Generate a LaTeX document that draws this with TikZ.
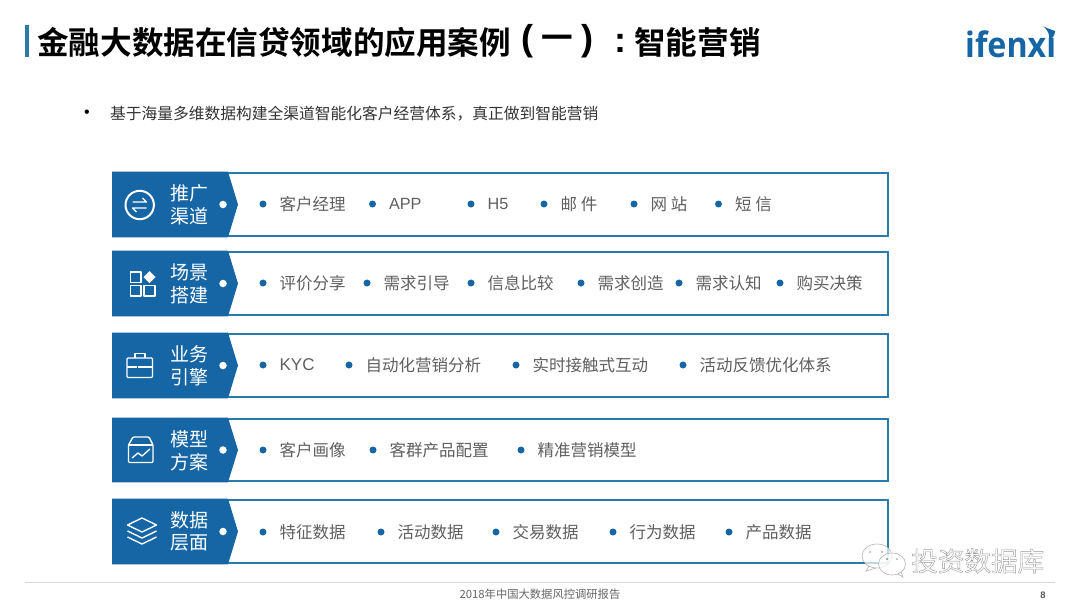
\documentclass[tikz,border=0pt]{standalone}
\usepackage{fontspec}
\setmainfont{Liberation Sans}
\newfontfamily\cjk{Noto Sans CJK SC}[BoldFont=* Bold]
\newfontfamily\logofont{Open Sans}
\definecolor{bankblue}{HTML}{1666A6}
\definecolor{edgeblue}{HTML}{2A7BA9}
\definecolor{itemgray}{HTML}{5F5F5F}
\tikzset{
  band/.style={draw=edgeblue,line width=2.1,fill=white},
  tab/.style={fill=bankblue,draw=none},
  tablabel/.style={inner sep=0,text=white,font=\cjk\fontsize{19}{20}\selectfont},
  itemlabel/.style={inner sep=0,anchor=west,text=itemgray,font=\cjk\fontsize{16.5}{17}\selectfont},
  bulletdot/.style={circle,fill=bankblue,inner sep=0,minimum size=7},
  whitedot/.style={circle,fill=white,inner sep=0,minimum size=7.5},
  icon/.style={draw=white,line width=1.35,line join=round},
  titletext/.style={inner sep=0,text=black,font=\cjk\bfseries\fontsize{31.6}{32}\selectfont},
  titlemark/.style={inner sep=0,text=black,font=\bfseries\fontsize{36}{36}\selectfont}
}
\newcommand{\bandrow}[4]{%
  % #1 top, #2 bottom, #3 name, #4 mid
  \draw[band] (113,#1+0.8) rectangle (887.6,#2-0.8);
  \fill[tab] (112,#1-0.3) -- (228,#1-0.3) -- (238,#4) -- (228,#2+0.3) -- (112,#2+0.3) -- cycle;
  \node[whitedot] (#3dot) at (223,#4) {};
}
\newcommand{\itemat}[4]{%
  % #1 name, #2 y, #3 bullet x, #4 text
  \node[bulletdot] (#1d) at (#3,#2) {};
  \node[itemlabel] (#1t) at (#3+16.4,#2) {#4};
}
\begin{document}
\begin{tikzpicture}[x=1pt,y=-1pt]
\useasboundingbox (0,0) rectangle (1080,608);
\fill[white] (0,0) rectangle (1080,608);
% title
\fill[edgeblue] (25,25) rectangle (29,57);
\node[titletext,anchor=west] (title) at (37,42) {金融大数据在信贷领域的应用案例};
\node[titlemark] (popen) at (527,41) {(};
\node[titletext] (tone) at (557,42) {一};
\node[titlemark] (pclose) at (587,41) {)};
\node[titlemark] (tcolon) at (620,43.5) {:};
\node[titletext,anchor=west] (title2) at (634,42) {智能营销};
\node[inner sep=0,text=black] (lead) at (87,114) {\fontsize{16}{16}\selectfont •};
\node[inner sep=0,anchor=west,text=black!80] (leadtext) at (110,114) {\cjk\fontsize{15.75}{16}\selectfont 基于海量多维数据构建全渠道智能化客户经营体系，真正做到智能营销};
% logo
\node[inner sep=0,anchor=base west,text=bankblue,xscale=0.92,transform shape] (logo) at (965,57) {\logofont\bfseries\fontsize{35}{36}\selectfont ifenxı};
\fill[bankblue] (1043,26) .. controls (1048,29) and (1053,30) .. (1055,31) .. controls (1055,35) and (1053,38) .. (1049,40) .. controls (1050,35) and (1048,30) .. (1043,26) -- cycle;
% rows
\bandrow{172}{237}{a}{204.5}
\bandrow{251}{316}{b}{283.5}
\bandrow{333}{398}{c}{365.5}
\bandrow{418}{482}{d}{450}
\bandrow{499}{564}{e}{531.5}
% tab labels
\node[tablabel] (a1) at (189,193) {推广};
\node[tablabel] (a2) at (189,216) {渠道};
\node[tablabel] (b1) at (189,272) {场景};
\node[tablabel] (b2) at (189,295) {搭建};
\node[tablabel] (c1) at (189,354) {业务};
\node[tablabel] (c2) at (189,377) {引擎};
\node[tablabel] (d1) at (189,439) {模型};
\node[tablabel] (d2) at (189,462) {方案};
\node[tablabel] (e1) at (189,520) {数据};
\node[tablabel] (e2) at (189,543) {层面};
% items
\itemat{a1i}{204}{263}{客户经理}
\itemat{a2i}{204}{372.5}{\fontsize{16.2}{17}\selectfont\rmfamily APP}
\itemat{a3i}{204}{471}{\fontsize{16.2}{17}\selectfont\rmfamily H5}
\itemat{a4i}{204}{544}{邮 件}
\itemat{a5i}{204}{634}{网 站}
\itemat{a6i}{204}{718.5}{短 信}
\itemat{b1i}{283}{263}{评价分享}
\itemat{b2i}{283}{367}{需求引导}
\itemat{b3i}{283}{471}{信息比较}
\itemat{b4i}{283}{581}{需求创造}
\itemat{b5i}{283}{679}{需求认知}
\itemat{b6i}{283}{780}{购买决策}
\itemat{c1i}{365}{263}{\fontsize{17}{17}\selectfont\rmfamily KYC}
\itemat{c2i}{365}{349}{自动化营销分析}
\itemat{c3i}{365}{516}{实时接触式互动}
\itemat{c4i}{365}{683}{活动反馈优化体系}
\itemat{d1i}{450}{263}{客户画像}
\itemat{d2i}{450}{373}{客群产品配置}
\itemat{d3i}{450}{521}{精准营销模型}
\itemat{e1i}{532}{263}{特征数据}
\itemat{e2i}{532}{381}{活动数据}
\itemat{e3i}{532}{496}{交易数据}
\itemat{e4i}{532}{613}{行为数据}
\itemat{e5i}{532}{729}{产品数据}
% icon 1: circle with arrows
\draw[icon,line width=2] (139.7,205) circle (14.2);
\draw[icon] (132.5,202) -- (146.5,202) -- (142.5,198);
\draw[icon] (146.5,208) -- (132.5,208) -- (136.5,212);
% icon 2: squares and diamond
\draw[icon] (130.5,272) rectangle (141,282.5);
\draw[icon] (130.5,285.5) rectangle (141,296);
\draw[icon] (144,285.5) rectangle (155,296);
\fill[white] (149.5,271) -- (155.5,277) -- (149.5,283) -- (143.5,277) -- cycle;
% icon 3: briefcase
\draw[icon,rounded corners=1] (127,358) rectangle (152.5,377.5);
\draw[icon] (127,367) -- (137,367) (143,367) -- (152.5,367);
\draw[icon] (135,358) -- (135,353.5) -- (145,353.5) -- (145,358);
\fill[white] (137.5,366) rectangle (142.5,368);
% icon 4: box with chart
\draw[icon,rounded corners=1] (128.5,445) -- (133,437) -- (149,437) -- (153,445) -- (153,462.5) -- (128.5,462.5) -- cycle;
\draw[icon] (128.5,445) -- (153,445);
\draw[icon] (132,458) -- (138,453) -- (142,456) -- (150,449);
% icon 5: layers
\draw[icon] (142,518) -- (156.5,525) -- (142,532) -- (127.5,525) -- cycle;
\draw[icon] (127.5,531) -- (142,538) -- (156.5,531);
\draw[icon] (127.5,537) -- (142,544) -- (156.5,537);
% footer
\draw[black!15,line width=0.8] (25,582.5) -- (1055,582.5);
\node[inner sep=0,text=black!60] (foot) at (540,594) {\cjk\fontsize{11.3}{12}\selectfont 2018年中国大数据风控调研报告};
\node[inner sep=0,text=black!65] (page) at (1043,595) {\bfseries\fontsize{9.5}{10}\selectfont 8};
% watermark
\draw[black!30,fill=white,fill opacity=0.7,line width=0.6] (877,556) ellipse (15 and 12);
\draw[black!30,line width=0.6] (869,566) -- (866,571) -- (876,568);
\draw[black!30,fill=white,fill opacity=0.7,line width=0.6] (892,564) ellipse (13.5 and 11);
\draw[black!30,line width=0.6] (898,574) -- (903,577) -- (901,572);
\fill[black!45] (870,552) circle (0.9) (882,552) circle (0.9) (887,559) circle (1.2) (897,559) circle (0.9);
\node[inner sep=0,anchor=west] (mark) at (911,561) {\cjk\fontsize{26.6}{27}\selectfont\special{pdf:code q 1 Tr 0.4 w 0.6 G}投资数据库\special{pdf:code Q}};
\end{tikzpicture}
\end{document}
